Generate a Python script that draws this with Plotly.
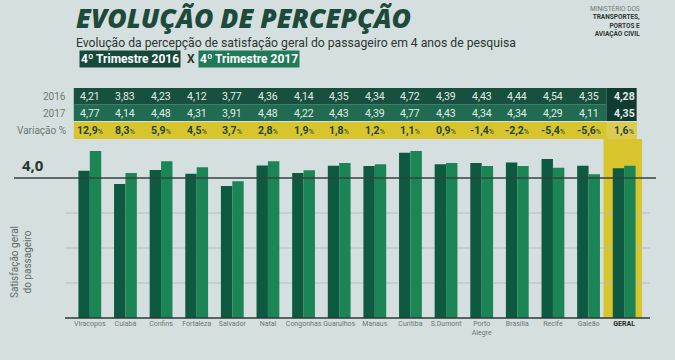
import plotly.graph_objects as go

# ---------------- data ----------------
airports = ["Viracopos", "Cuiabá", "Confins", "Fortaleza", "Salvador", "Natal",
            "Congonhas", "Guarulhos", "Manaus", "Curitiba", "S.Dumont",
            "Porto Alegre", "Brasília", "Recife", "Galeão", "GERAL"]
tick_labels = ["Viracopos", "Cuiabá", "Confins", "Fortaleza", "Salvador", "Natal",
               "Congonhas", "Guarulhos", "Manaus", "Curitiba", "S.Dumont",
               "Porto<br>Alegre", "Brasília", "Recife", "Galeão", "GERAL"]
v2016 = [4.21, 3.83, 4.23, 4.12, 3.77, 4.36, 4.14, 4.35, 4.34, 4.72, 4.39, 4.43, 4.44, 4.54, 4.35, 4.28]
v2017 = [4.77, 4.14, 4.48, 4.31, 3.91, 4.48, 4.22, 4.43, 4.39, 4.77, 4.43, 4.34, 4.34, 4.29, 4.11, 4.35]
variation = [12.9, 8.3, 5.9, 4.5, 3.7, 2.8, 1.9, 1.8, 1.2, 1.1, 0.9, -1.4, -2.2, -5.4, -5.6, 1.6]
grid_vals = [1, 2, 3]
ref_val = 4.0

# ---------------- geometry ----------------
W, H = 675, 360
L, R, T, B = 72, 33, 140, 42
PW, PH = W - L - R, H - T - B


def py(y):
    return (H - B - y) / PH


def px(x):
    return (x - L) / PW


def fmt(v, d=2):
    return f"{v:.{d}f}".replace(".", ",")


C16 = "#0d5a40"
C17 = "#1b8556"
ROW16 = "#18503f"
ROW17 = "#206b51"
GER = "#103b30"
YEL = "#d8c42c"
TXT_DK = "#1d4436"

fig = go.Figure()
fig.add_trace(go.Bar(x=airports, y=v2016, name="2016", marker=dict(color=C16, line_width=0)))
fig.add_trace(go.Bar(x=airports, y=v2017, name="2017", marker=dict(color=C17, line_width=0)))

shapes = []
ann = []

# yellow highlight behind GERAL
shapes.append(dict(type="rect", xref="x", yref="paper", x0=14.42, x1=15.62, y0=0, y1=py(139),
                   fillcolor=YEL, line_width=0, layer="below"))
# grid lines
for g in grid_vals:
    shapes.append(dict(type="line", xref="paper", yref="y", x0=px(65), x1=px(650), y0=g, y1=g,
                       line=dict(color="#b3bcbb", width=1), layer="below"))
# reference line 4.0
shapes.append(dict(type="line", xref="paper", yref="y", x0=px(14), x1=px(656), y0=ref_val, y1=ref_val,
                   line=dict(color="#34443e", width=1.6), layer="above"))
# bottom axis line
shapes.append(dict(type="line", xref="paper", yref="paper", x0=px(65), x1=px(650), y0=0, y1=0,
                   line=dict(color="#2c3a35", width=1.6)))

ann.append(dict(xref="paper", yref="y", x=px(33), y=ref_val, text="<b>4,0</b>", showarrow=False,
                yanchor="bottom", xanchor="center", yshift=1,
                font=dict(size=15, color="#263630", family="Open Sans")))

# ---------------- table ----------------
x_left, x_right = -0.45, 15.35
shapes.append(dict(type="rect", xref="x", yref="paper", x0=x_left, x1=14.5, y0=py(104.5), y1=py(88),
                   fillcolor=ROW16, line_width=0))
shapes.append(dict(type="rect", xref="x", yref="paper", x0=x_left, x1=14.5, y0=py(121), y1=py(104.5),
                   fillcolor=ROW17, line_width=0))
shapes.append(dict(type="line", xref="x", yref="paper", x0=x_left, x1=14.5, y0=py(104.5), y1=py(104.5),
                   line=dict(color="#3d7f68", width=1)))
shapes.append(dict(type="rect", xref="x", yref="paper", x0=14.5, x1=x_right, y0=py(121), y1=py(88),
                   fillcolor=GER, line_width=0))
shapes.append(dict(type="rect", xref="x", yref="paper", x0=x_left, x1=x_right, y0=py(139), y1=py(122),
                   fillcolor=YEL, line_width=0))
shapes.append(dict(type="rect", xref="x", yref="paper", x0=14.5, x1=x_right, y0=py(139), y1=py(122),
                   fillcolor="#dccb52", line_width=0))

for i, a in enumerate(airports):
    bold = a == "GERAL"
    for v, yc in ((v2016[i], 96), (v2017[i], 113)):
        t = fmt(v)
        ann.append(dict(xref="x", yref="paper", x=i, y=py(yc), text=f"<b>{t}</b>" if bold else t,
                        xanchor="center", yanchor="middle",
                        showarrow=False, font=dict(size=10.5, color="#e2ece6", family="Roboto")))
    vt = fmt(variation[i], 1)
    ann.append(dict(xref="x", yref="paper", x=i, y=py(130.5),
                    text=f"<b>{vt}</b><span style='font-size:7px'>%</span>",
                    xanchor="center", yanchor="middle",
                    showarrow=False, font=dict(size=10.5, color=TXT_DK, family="Roboto")))

for label, yc in (("2016", 96), ("2017", 113), ("Variação %", 130.5)):
    ann.append(dict(xref="paper", yref="paper", x=px(68), y=py(yc), text=label,
                    xanchor="right", yanchor="middle",
                    showarrow=False, font=dict(size=10, color="#6b7774", family="Roboto")))

# ---------------- titles ----------------
ann.append(dict(xref="paper", yref="paper", x=px(74), y=py(17.5), xanchor="left", yanchor="middle",
                text="EVOLUÇÃO DE PERCEPÇÃO", showarrow=False,
                font=dict(size=26.5, color="#1c4a3b", family="Open Sans", weight=800, style="italic")))
ann.append(dict(xref="paper", yref="paper", x=px(74), y=py(43.5), xanchor="left", yanchor="middle",
                text="Evolução da percepção de satisfação geral do passageiro em 4 anos de pesquisa",
                showarrow=False, font=dict(size=12.2, color="#2a3631", family="Roboto")))
ann.append(dict(xref="paper", yref="paper", x=px(79), y=py(59.5), xanchor="left", yanchor="middle",
                text="<b>4º Trimestre 2016</b>", showarrow=False, bgcolor="#154a3b", borderpad=1,
                font=dict(size=12, color="#ffffff", family="Roboto")))
ann.append(dict(xref="paper", yref="paper", x=px(190.5), y=py(59.5), xanchor="center", yanchor="middle",
                text="<b>X</b>", showarrow=False, font=dict(size=12, color="#2a3631", family="Roboto")))
ann.append(dict(xref="paper", yref="paper", x=px(198), y=py(59.5), xanchor="left", yanchor="middle",
                text="<b>4º Trimestre 2017</b>", showarrow=False, bgcolor="#1f7a56", borderpad=1,
                font=dict(size=12, color="#ffffff", family="Roboto")))
ann.append(dict(xref="paper", yref="paper", x=px(642), y=py(21), xanchor="right", yanchor="middle",
                align="right",
                text="<span style='color:#6f7a77'>MINISTÉRIO DOS</span><br><b>TRANSPORTES,</b><br><b>PORTOS E</b><br><b>AVIAÇÃO CIVIL</b>",
                showarrow=False, font=dict(size=6.5, color="#2c3632", family="Roboto")))

# y axis title
ann.append(dict(xref="paper", yref="paper", x=px(21), y=py(262), textangle=-90,
                xanchor="center", yanchor="middle",
                text="Satisfação geral<br>do passageiro", showarrow=False,
                font=dict(size=10, color="#5f6b68", family="Roboto")))

ticktext = [f"<b><span style='color:#1e2a26'>{t}</span></b>" if t == "GERAL" else t for t in tick_labels]

fig.update_layout(
    width=W, height=H,
    margin=dict(l=L, r=R, t=T, b=B, pad=0, autoexpand=False),
    paper_bgcolor="#d6dfdf",
    plot_bgcolor="rgba(0,0,0,0)",
    barmode="group", bargap=0.36, bargroupgap=0.0,
    showlegend=False,
    hovermode=False,
    shapes=shapes, annotations=ann,
    xaxis=dict(tickmode="array", tickvals=airports, ticktext=ticktext, showgrid=False,
               range=[-0.5, 15.5], autorange=False, automargin=False, tickangle=0,
               showline=False, ticks="", ticklen=0, fixedrange=True,
               tickfont=dict(size=7, color="#6b7673", family="Roboto")),
    yaxis=dict(range=[0, (H - B - T) / 35.0], autorange=False, automargin=False, fixedrange=True,
               showgrid=False, showticklabels=False, zeroline=False, showline=False),
    font=dict(family="Roboto"),
)

fig.write_html("out.html",
               config={"displayModeBar": False, "staticPlot": True},
               post_script="document.body.style.margin='0';document.body.style.background='#d6dfdf';")
